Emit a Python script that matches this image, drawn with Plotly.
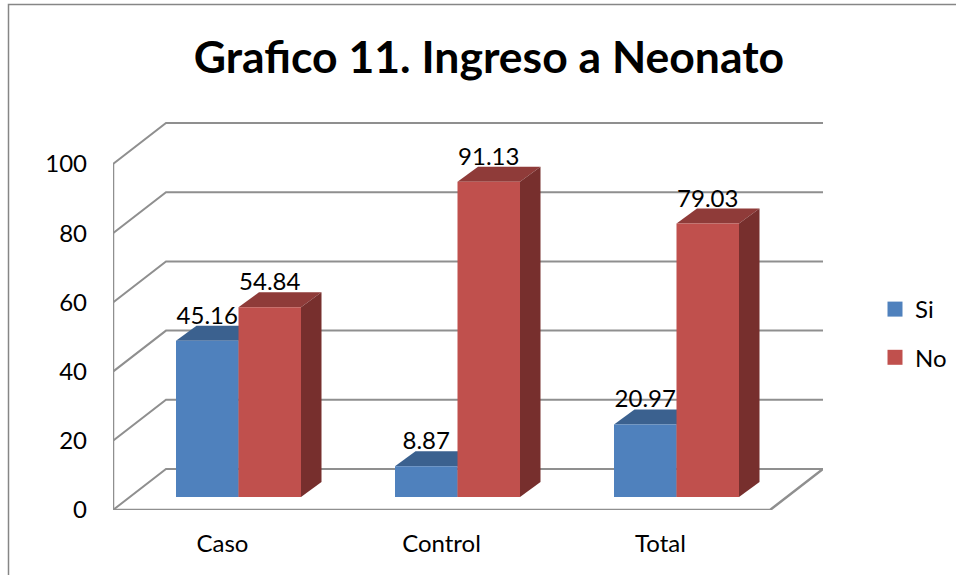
import plotly.graph_objects as go

categories = ["Caso", "Control", "Total"]
si_values = [45.16, 8.87, 20.97]
no_values = [54.84, 91.13, 79.03]
y_ticks = [0, 20, 40, 60, 80, 100]
title_text = "Grafico 11. Ingreso a Neonato"

# Geometry of the oblique projection, in pixels
W, H = 956, 575
L, R, T, B = 113, 823, 117, 510
PX_X = 219.0      # pixels per category
PX_Y = 3.46       # pixels per value unit
WALL_DX, WALL_DY = 53 / PX_X, 41 / PX_Y      # back wall offset
BAR_DX, BAR_DY = 20.5 / PX_X, 15 / PX_Y      # bar depth
BASE = 13 / PX_Y  # bars stand inside the floor
SHIFT = 16 / PX_X  # bars sit off the front plane
BW = 62.5 / PX_X

GRID = "#8f8f8f"
BLUE, BLUE_TOP, BLUE_SIDE = "#4F81BD", "#3B618F", "#2F4D71"
RED, RED_TOP, RED_SIDE = "#C0504D", "#8F3B39", "#772F2D"
FONT = "Lato"

x0, x1 = -0.5, 2.5
fig = go.Figure()

# Walls and floor
for v in y_ticks:
    fig.add_trace(go.Scatter(
        x=[x0, x0 + WALL_DX, x1 + WALL_DX],
        y=[v, v + WALL_DY, v + WALL_DY],
        mode="lines", line=dict(color=GRID, width=2),
        showlegend=False, hoverinfo="skip", zorder=0, cliponaxis=False))
fig.add_trace(go.Scatter(
    x=[x0, x0, None, x0, x1, x1 + WALL_DX],
    y=[100, 0, None, 0, 0, WALL_DY],
    mode="lines", line=dict(color=GRID, width=2.5),
    showlegend=False, hoverinfo="skip", zorder=0, cliponaxis=False))


def add_series(name, values, sign, front, top, side, z):
    for i, v in enumerate(values):
        left = i + SHIFT + (-BW if sign < 0 else 0)
        right = left + BW
        vt = BASE + v
        fig.add_trace(go.Scatter(
            x=[left, right, right + BAR_DX, left + BAR_DX, left],
            y=[vt, vt, vt + BAR_DY, vt + BAR_DY, vt],
            mode="lines", fill="toself", fillcolor=top, line=dict(width=0),
            showlegend=False, hoverinfo="skip", zorder=z))
        fig.add_trace(go.Scatter(
            x=[right, right + BAR_DX, right + BAR_DX, right, right],
            y=[BASE, BASE + BAR_DY, vt + BAR_DY, vt, BASE],
            mode="lines", fill="toself", fillcolor=side, line=dict(width=0),
            showlegend=False, hoverinfo="skip", zorder=z))
    fig.add_trace(go.Bar(
        x=[i + SHIFT + sign * BW / 2 for i in range(len(values))],
        y=values, base=BASE, width=BW, name=name, legendgroup=name,
        showlegend=False,
        marker=dict(color=front, line=dict(width=0)), zorder=z + 1))
    # Legend swatch at the reference's square size
    fig.add_trace(go.Scatter(
        x=[None], y=[None], mode="markers", name=name, legendgroup=name,
        marker=dict(symbol="square", size=15, color=front, line=dict(width=0))))


add_series("Si", si_values, -1, BLUE, BLUE_TOP, BLUE_SIDE, 1)
add_series("No", no_values, 1, RED, RED_TOP, RED_SIDE, 3)

# Value labels
for values, sign in ((si_values, -1), (no_values, 1)):
    fig.add_trace(go.Scatter(
        x=[i + SHIFT + sign * BW / 2 for i in range(len(values))],
        y=[BASE + v + BAR_DY + 8 / PX_Y for v in values],
        text=[f"{v:.2f}" for v in values],
        mode="text", textposition="middle center",
        textfont=dict(family=FONT, size=24, color="#000000"),
        showlegend=False, hoverinfo="skip", zorder=5, cliponaxis=False))

fig.update_layout(
    width=W, height=H,
    autosize=False,
    margin=dict(l=L, r=W - R, t=T, b=H - B, pad=0, autoexpand=False),
    paper_bgcolor="white", plot_bgcolor="white",
    barmode="overlay",
    title=dict(text=f"<b>{title_text}</b>", x=489 / W, xanchor="center",
               y=1 - 57 / H, yanchor="middle",
               font=dict(family=FONT, size=44.5, color="#000000")),
    font=dict(family=FONT, size=24, color="#000000"),
    xaxis=dict(range=[x0, x0 + (R - L) / PX_X], tickmode="array",
               tickvals=list(range(len(categories))), ticktext=categories,
               showgrid=False, zeroline=False, showline=False, ticks="",
               ticklabelstandoff=17, tickfont=dict(family=FONT, size=24)),
    yaxis=dict(range=[0, (B - T) / PX_Y], tickmode="array", tickvals=y_ticks,
               showgrid=False, zeroline=False, showline=False, ticks="",
               ticklabelstandoff=25, tickfont=dict(family=FONT, size=24)),
    legend=dict(x=(875 - L) / (R - L), xanchor="left",
                y=1 - (287 - T) / (B - T), yanchor="top",
                bgcolor="rgba(0,0,0,0)", tracegroupgap=14,
                font=dict(family=FONT, size=24), traceorder="grouped"),
    shapes=[dict(type="path", xref="paper", yref="paper", layer="above",
                 path=f"M {(8.5 - L) / (R - L)} {(B - H) / (B - T)} "
                      f"L {(8.5 - L) / (R - L)} {(B - 4.5) / (B - T)} "
                      f"L {(W - L) / (R - L)} {(B - 4.5) / (B - T)}",
                 line=dict(color="#868686", width=1.5))],
)

fig.write_html(
    "out.html",
    config={"displayModeBar": False},
    post_script="document.body.style.margin='0';document.body.style.overflow='hidden';",
)
